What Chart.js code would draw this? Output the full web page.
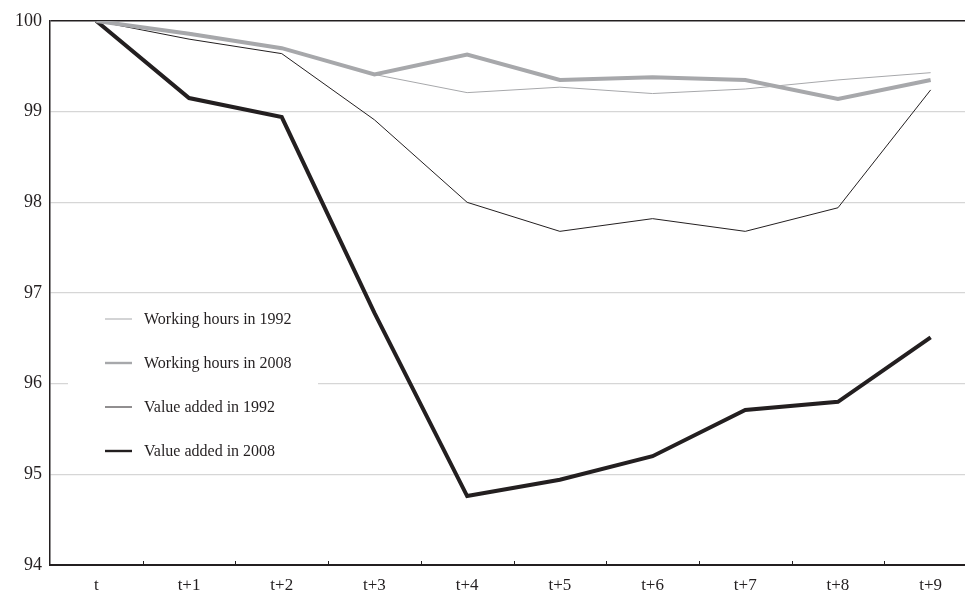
<!DOCTYPE html>
<html>
<head>
<meta charset="utf-8">
<script src="https://cdn.jsdelivr.net/npm/chart.js@4/dist/chart.umd.min.js"></script>
<style>
  html, body { margin: 0; padding: 0; background: #fff; overflow: hidden; }
  #wrap { width: 977px; height: 592px; }
</style>
</head>
<body>
<div id="wrap"><canvas id="chart" width="977" height="592"></canvas></div>
<script>
const categories = ['t', 't+1', 't+2', 't+3', 't+4', 't+5', 't+6', 't+7', 't+8', 't+9'];

const hours1992 = [100, 99.87, 99.70, 99.41, 99.21, 99.27, 99.20, 99.25, 99.35, 99.43];
const hours2008 = [100, 99.86, 99.70, 99.41, 99.63, 99.35, 99.38, 99.35, 99.14, 99.35];
const value1992 = [100, 99.80, 99.64, 98.91, 98.00, 97.68, 97.82, 97.68, 97.94, 99.24];
const value2008 = [100, 99.15, 98.94, 96.78, 94.76, 94.94, 95.20, 95.71, 95.80, 96.51];

const yMin = 94;
const yMax = 100;

const ink = '#231f20';
const grey = '#a7a8ab';
const serif = "'Liberation Serif', 'Times New Roman', serif";

// legend drawn inside the plot, on a white box that hides the grid behind it
const boxLegend = {
  id: 'boxLegend',
  afterDatasetsDraw(chart, args, opts) {
    const { ctx, chartArea } = chart;
    const x0 = chartArea.left + opts.left;
    const y0 = chartArea.top + opts.top;
    const items = chart.data.datasets;
    ctx.save();
    ctx.fillStyle = '#fff';
    ctx.fillRect(x0, y0 - 20, opts.boxWidth, opts.rowGap * (items.length - 1) + 38);
    ctx.font = '16px ' + serif;
    ctx.textBaseline = 'middle';
    items.forEach((ds, i) => {
      const y = y0 + i * opts.rowGap;
      ctx.strokeStyle = ds.borderColor;
      ctx.lineWidth = Math.max(1, ds.borderWidth * 0.6);
      ctx.beginPath();
      ctx.moveTo(x0 + opts.lineStart, y);
      ctx.lineTo(x0 + opts.lineStart + opts.lineLength, y);
      ctx.stroke();
      ctx.fillStyle = ink;
      ctx.fillText(ds.label, x0 + opts.textStart, y + 1);
    });
    ctx.restore();
  }
};

// small ticks between categories, pointing up into the plot
const innerTicks = {
  id: 'innerTicks',
  afterDraw(chart) {
    const { ctx, chartArea } = chart;
    const xs = chart.scales.x;
    ctx.save();
    ctx.strokeStyle = ink;
    ctx.lineWidth = 1;
    for (let i = 1; i < categories.length; i++) {
      const x = Math.round((xs.getPixelForValue(i - 1) + xs.getPixelForValue(i)) / 2) + 0.5;
      ctx.beginPath();
      ctx.moveTo(x, chartArea.bottom);
      ctx.lineTo(x, chartArea.bottom - 4);
      ctx.stroke();
    }
    ctx.restore();
  }
};

new Chart(document.getElementById('chart'), {
  type: 'line',
  data: {
    labels: categories,
    datasets: [
      { label: 'Working hours in 1992', data: hours1992, borderColor: grey, borderWidth: 1 },
      { label: 'Working hours in 2008', data: hours2008, borderColor: grey, borderWidth: 4 },
      { label: 'Value added in 1992', data: value1992, borderColor: ink, borderWidth: 1 },
      { label: 'Value added in 2008', data: value2008, borderColor: ink, borderWidth: 4 }
    ]
  },
  options: {
    responsive: false,
    devicePixelRatio: 1,
    animation: false,
    layout: { padding: { top: 21, right: 0, bottom: 0, left: 0 } },
    elements: {
      point: { radius: 0, hoverRadius: 0 },
      line: { tension: 0, fill: false, borderJoinStyle: 'miter', borderCapStyle: 'butt' }
    },
    plugins: {
      legend: { display: false },
      tooltip: { enabled: false },
      boxLegend: { left: 18, top: 298, rowGap: 44, boxWidth: 250, lineStart: 37, lineLength: 27, textStart: 76 }
    },
    scales: {
      x: {
        offset: true,
        grid: { display: false, drawTicks: false },
        border: { display: true, color: ink, width: 2 },
        ticks: {
          color: ink,
          font: { family: serif, size: 17 },
          padding: 10,
          maxRotation: 0,
          autoSkip: false
        },
        afterFit(scale) { scale.height = 27; }
      },
      y: {
        min: yMin,
        max: yMax,
        grid: {
          drawTicks: false,
          color: c => (c.tick && c.tick.value === yMax ? ink : '#d6d6d6'),
          lineWidth: c => (c.tick && c.tick.value === yMax ? 1.5 : 1.2)
        },
        border: { display: true, color: ink, width: 1.5 },
        ticks: {
          stepSize: 1,
          color: ink,
          font: { family: serif, size: 18 },
          padding: 8
        },
        afterFit(scale) { scale.width = 50; }
      }
    }
  },
  plugins: [boxLegend, innerTicks]
});
</script>
</body>
</html>
